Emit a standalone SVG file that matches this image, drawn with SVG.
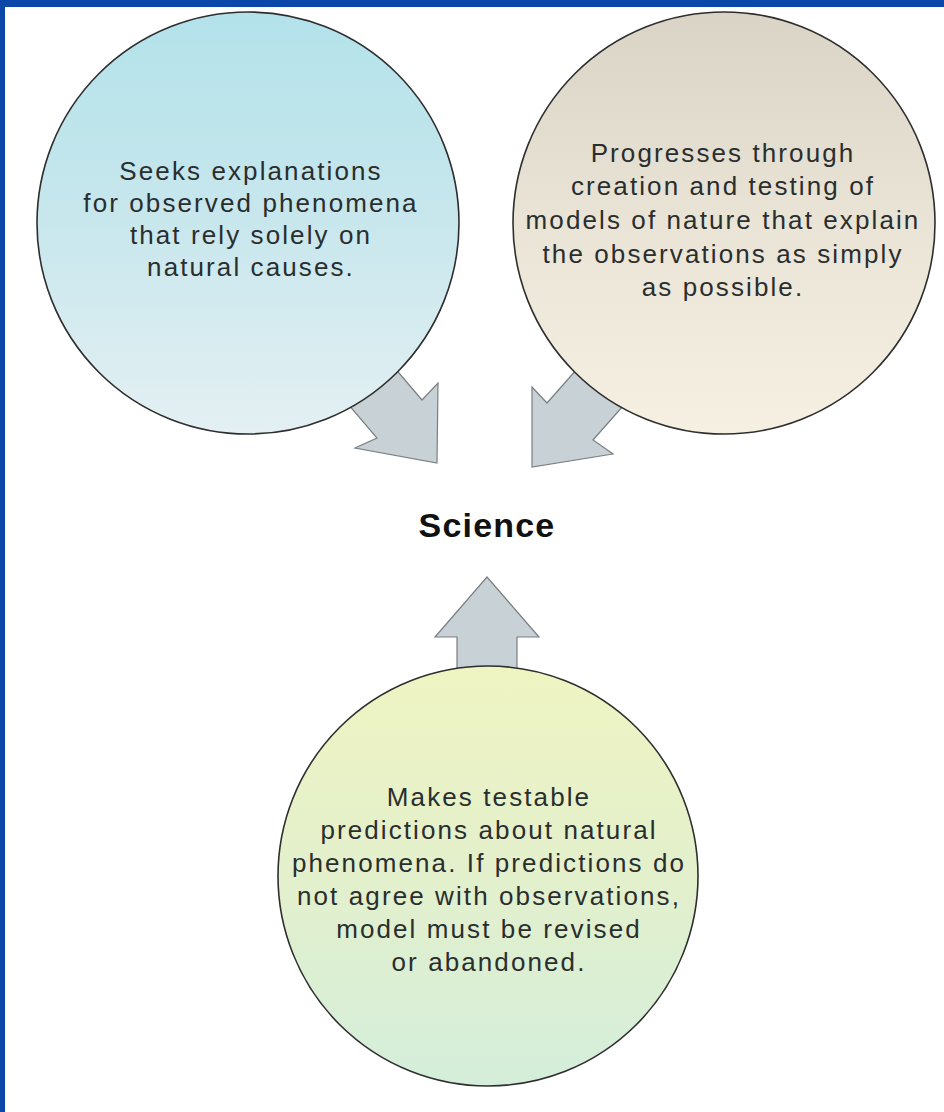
<svg xmlns="http://www.w3.org/2000/svg" width="944" height="1112" viewBox="0 0 944 1112">
  <defs>
    <linearGradient id="gBlue" x1="0" y1="0" x2="0" y2="1">
      <stop offset="0" stop-color="#b3e2ea"/>
      <stop offset="0.5" stop-color="#c8e7ed"/>
      <stop offset="1" stop-color="#e4f0f3"/>
    </linearGradient>
    <linearGradient id="gTan" x1="0" y1="0" x2="0" y2="1">
      <stop offset="0" stop-color="#d9d4c6"/>
      <stop offset="0.5" stop-color="#e9e4d6"/>
      <stop offset="1" stop-color="#f6f0e2"/>
    </linearGradient>
    <linearGradient id="gGreen" x1="0" y1="0" x2="0" y2="1">
      <stop offset="0" stop-color="#eff4c2"/>
      <stop offset="0.5" stop-color="#e3f0cc"/>
      <stop offset="1" stop-color="#d4eedb"/>
    </linearGradient>
    <style>
      .node { stroke: #2e2e2e; stroke-width: 1.6; }
      .arrow { fill: #c7d1d6; stroke: #7a7f82; stroke-width: 1.2; stroke-linejoin: miter; }
      .t { font-family: "Liberation Sans", Arial, sans-serif; font-size: 26px; fill: #2a2e2e; text-anchor: middle; letter-spacing: 2.1px; }
      .title { font-family: "Liberation Sans", Arial, sans-serif; font-size: 34px; font-weight: bold; fill: #111; text-anchor: middle; letter-spacing: 1.2px; }
    </style>
  </defs>

  <rect x="0" y="0" width="944" height="1112" fill="#ffffff"/>
  <rect x="0" y="0" width="944" height="7" fill="#0a47a9"/>
  <rect x="0" y="0" width="5" height="1112" fill="#0a47a9"/>

  <g id="connectors">
    <polygon class="arrow" points="370,339 422,400 438,383 437,463 355,448 377,438 325,377"/>
    <polygon class="arrow" points="600,343 547,403 532,387 532,467 613,454 593,440 646,380"/>
    <polygon class="arrow" points="457,700 457,637 435,637 487,577 539,637 517,637 517,700"/>
  </g>

  <g id="node-natural">
    <circle class="node" cx="248" cy="223" r="211" fill="url(#gBlue)"/>
    <text class="t" x="251" y="180">Seeks explanations</text>
    <text class="t" x="251" y="212">for observed phenomena</text>
    <text class="t" x="251" y="244">that rely solely on</text>
    <text class="t" x="251" y="276">natural causes.</text>
  </g>

  <g id="node-models">
    <circle class="node" cx="724" cy="223" r="211" fill="url(#gTan)"/>
    <text class="t" x="723" y="162">Progresses through</text>
    <text class="t" x="723" y="195">creation and testing of</text>
    <text class="t" x="723" y="229">models of nature that explain</text>
    <text class="t" x="723" y="263">the observations as simply</text>
    <text class="t" x="723" y="296">as possible.</text>
  </g>

  <g id="node-science">
    <text class="title" x="487" y="537">Science</text>
  </g>

  <g id="node-predictions">
    <circle class="node" cx="488" cy="876" r="210" fill="url(#gGreen)"/>
    <text class="t" x="489" y="806">Makes testable</text>
    <text class="t" x="489" y="839">predictions about natural</text>
    <text class="t" x="489" y="872">phenomena. If predictions do</text>
    <text class="t" x="489" y="905">not agree with observations,</text>
    <text class="t" x="489" y="938">model must be revised</text>
    <text class="t" x="489" y="971">or abandoned.</text>
  </g>
</svg>
